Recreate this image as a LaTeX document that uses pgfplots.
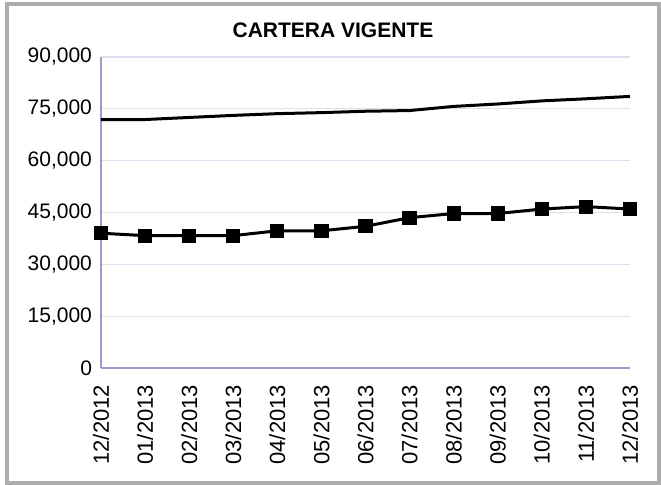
\documentclass[border=0pt]{standalone}
\usepackage{fontspec}
\setmainfont{Liberation Sans}
\usepackage{pgfplots}
\pgfplotsset{compat=1.18}
\definecolor{framegray}{HTML}{ADADAD}
\definecolor{gridc}{HTML}{DEDEEE}
\definecolor{axisc}{HTML}{9C9CCC}
\begin{document}
\begin{tikzpicture}
\useasboundingbox (0pt,0pt) rectangle (330.5pt,242.5pt);
\draw[framegray, line width=1.6pt] (3.5pt,1pt) rectangle (329.5pt,240.5pt);
\node[font=\bfseries\fontsize{10.5}{12}\selectfont] at (166.5pt,227.5pt) {CARTERA VIGENTE};
\begin{axis}[
  at={(50.5pt,58.5pt)}, anchor=south west,
  scale only axis, width=264.5pt, height=155.5pt,
  xmin=0, xmax=12, ymin=0, ymax=90000,
  xtick={0,...,12},
  xticklabels={12/2012,01/2013,02/2013,03/2013,04/2013,05/2013,06/2013,07/2013,08/2013,09/2013,10/2013,11/2013,12/2013},
  xticklabel style={rotate=90, anchor=east, font=\fontsize{11}{13}\selectfont},
  ytick={0,15000,30000,45000,60000,75000,90000},
  scaled y ticks=false,
  yticklabel style={font=\fontsize{10.5}{12}\selectfont, /pgf/number format/.cd, 1000 sep={,}, assume math mode=true},
  tick style={draw=none},
  xtick pos=bottom, ytick pos=left,
  ymajorgrids, grid style={gridc, line width=0.6pt},
  axis lines*=left,
  axis line style={axisc, line width=0.6pt},
  clip=false,
  major tick length=0pt,
  xticklabel shift=5pt,
  yticklabel shift=1pt,
]
\addplot[black, line width=1.5pt] coordinates {
(0,71900) (1,71900) (2,72500) (3,73100) (4,73600) (5,73900) (6,74300) (7,74500) (8,75700) (9,76400) (10,77300) (11,77900) (12,78600)
};
\addplot[black, line width=1.5pt, mark=square*, mark size=2.8pt] coordinates {
(0,39000) (1,38300) (2,38300) (3,38300) (4,39700) (5,39700) (6,41000) (7,43500) (8,44700) (9,44700) (10,46000) (11,46700) (12,46000)
};
\end{axis}
\end{tikzpicture}
\end{document}
